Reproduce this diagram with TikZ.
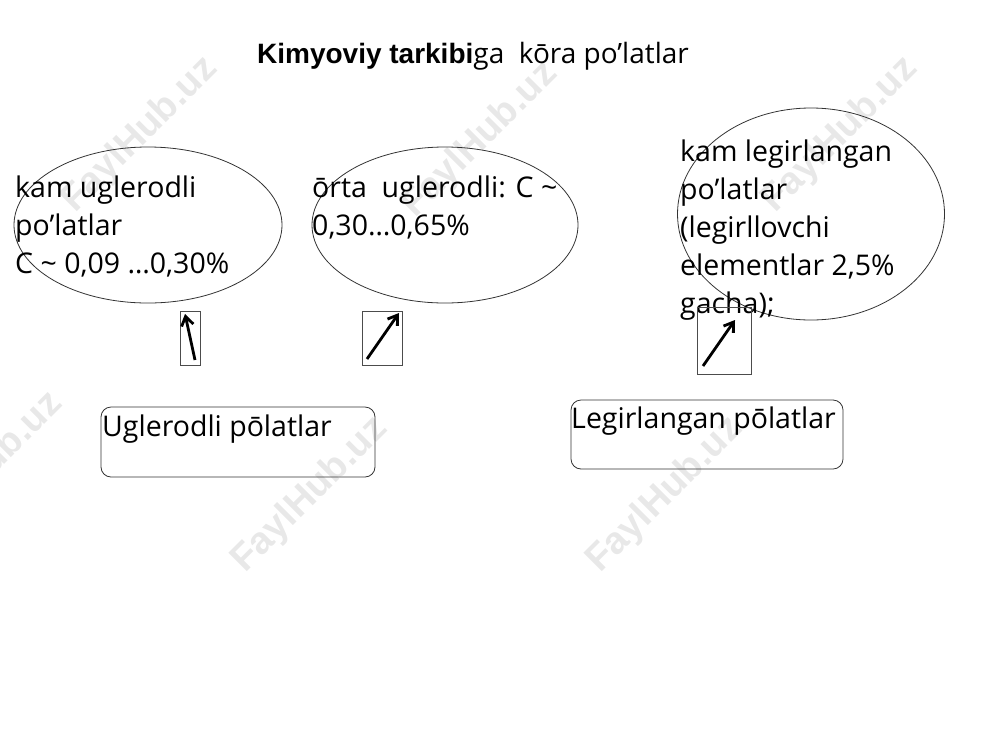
\documentclass[tikz,border=0pt]{standalone}
\usepackage{fontspec}
\setmainfont{Open Sans}
\newfontfamily\arialfont{Liberation Sans}
\usetikzlibrary{shapes.geometric,arrows.meta}
\begin{document}
\begin{tikzpicture}[x=1pt,y=-1pt,
  oval/.style={draw=black!80,line width=0.8pt,ellipse,inner sep=0pt},
  txt/.style={anchor=base west,align=left,inner sep=0pt,font=\fontsize{28.5}{38}\selectfont},
  abox/.style={draw=black!70,line width=0.8pt},
  rbox/.style={draw=black!80,line width=0.8pt,rounded corners=10pt},
  arr/.style={line width=2.8pt,-{Straight Barb[length=9pt,width=12pt]}},
  wm/.style={text=black!9,font=\arialfont\bfseries\fontsize{38}{40}\selectfont,rotate=45}
]
\useasboundingbox (0,0) rectangle (1000,750);
% watermarks
\node[wm] (w1) at (140,135) {FaylHub.uz};
\node[wm] (w2) at (480,140) {FaylHub.uz};
\node[wm] (w3) at (840,135) {FaylHub.uz};
\node[wm] (w4) at (-15,470) {FaylHub.uz};
\node[wm] (w5) at (310,495) {FaylHub.uz};
\node[wm] (w6) at (665,495) {FaylHub.uz};
% title
\node[anchor=base,inner sep=0pt,font=\fontsize{28}{32}\selectfont] (title) at (473,63)
  {{\arialfont\bfseries Kimyoviy tarkibi}ga\ \ kōra po’latlar};
% ellipses
\node[oval,minimum width=268pt,minimum height=156pt] (e1) at (148,225) {};
\node[oval,minimum width=266pt,minimum height=156pt] (e2) at (445,225) {};
\node[oval,minimum width=267pt,minimum height=212pt] (e3) at (811,214) {};
\node[txt] (t1) at (15,273) {kam uglerodli\\po’latlar\\C \textasciitilde{} 0,09 …0,30\%};
\node[txt] (t2) at (312,235) {ōrta\ \ uglerodli: C \textasciitilde\\0,30…0,65\%};
\node[txt] (t3) at (680,313) {kam legirlangan\\po’latlar\\(legirllovchi\\elementlar 2,5\%\\gacha);};
% arrow boxes
\node[abox,minimum width=20pt,minimum height=54pt,inner sep=0pt] (b1) at (190,338) {};
\node[abox,minimum width=40pt,minimum height=54pt,inner sep=0pt] (b2) at (382,338) {};
\node[abox,minimum width=54pt,minimum height=67pt,inner sep=0pt] (b3) at (724,340.5) {};
\coordinate (a1s) at (195,360); \coordinate (a1e) at (185,314);
\coordinate (a2s) at (367,359); \coordinate (a2e) at (399,313);
\coordinate (a3s) at (703,366); \coordinate (a3e) at (735,320);
\draw[arr] (a1s) -- (a1e);
\draw[arr] (a2s) -- (a2e);
\draw[arr] (a3s) -- (a3e);
% category boxes
\node[rbox,minimum width=274pt,minimum height=70pt,inner sep=0pt] (c1) at (238,442) {};
\node[rbox,minimum width=272pt,minimum height=69pt,inner sep=0pt] (c2) at (707,434.5) {};
\node[txt] (ct1) at (102,436) {Uglerodli pōlatlar};
\node[txt] (ct2) at (571,428) {Legirlangan pōlatlar};
\end{tikzpicture}
\end{document}
